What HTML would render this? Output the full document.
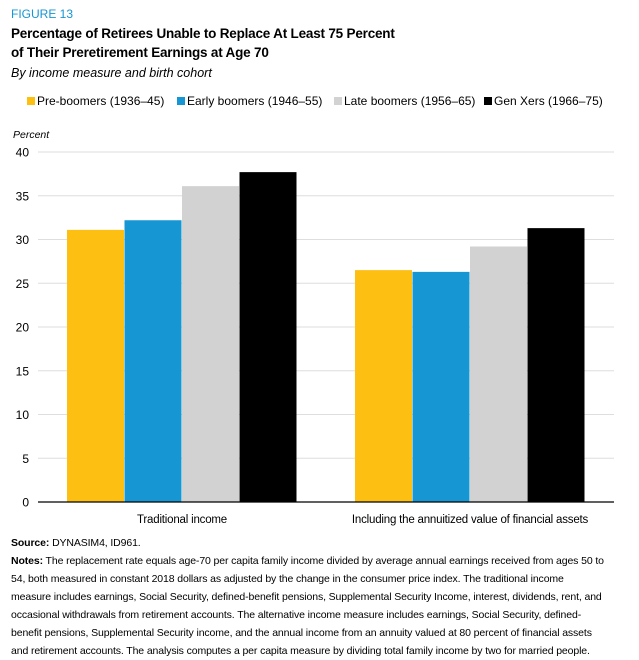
<!DOCTYPE html>
<html><head><meta charset="utf-8"><style>
body{margin:0;background:#fff;font-family:"Liberation Sans",sans-serif;color:#000;}
#wrap{position:relative;width:639px;height:660px;overflow:hidden;}
.fig{position:absolute;left:11px;top:7px;font-size:12px;color:#1696d2;}
.title{position:absolute;left:11px;top:24px;font-size:13.5px;font-weight:bold;line-height:19px;letter-spacing:-0.2px;}
.sub{position:absolute;left:11px;top:66px;font-size:12.5px;font-style:italic;}
.notes{position:absolute;left:11px;top:534px;font-size:10.5px;line-height:18px;letter-spacing:-0.12px;white-space:nowrap;}
</style></head><body>
<div id="wrap">
<div class="fig">FIGURE 13</div>
<div class="title">Percentage of Retirees Unable to Replace At Least 75 Percent<br>of Their Preretirement Earnings at Age 70</div>
<div class="sub">By income measure and birth cohort</div>
<svg id="chart" width="639" height="530" style="position:absolute;left:0;top:0"></svg>
<div class="notes"><b>Source:</b> DYNASIM4, ID961.<br><b>Notes:</b> The replacement rate equals age-70 per capita family income divided by average annual earnings received from ages 50 to<br>54, both measured in constant 2018 dollars as adjusted by the change in the consumer price index. The traditional income<br>measure includes earnings, Social Security, defined-benefit pensions, Supplemental Security Income, interest, dividends, rent, and<br>occasional withdrawals from retirement accounts. The alternative income measure includes earnings, Social Security, defined-<br>benefit pensions, Supplemental Security income, and the annual income from an annuity valued at 80 percent of financial assets<br>and retirement accounts. The analysis computes a per capita measure by dividing total family income by two for married people.</div>
</div>
<script>
const categories = ["Traditional income", "Including the annuitized value of financial assets"];
const seriesNames = ["Pre-boomers (1936–45)", "Early boomers (1946–55)", "Late boomers (1956–65)", "Gen Xers (1966–75)"];
const preBoomers = [31.1, 26.5];
const earlyBoomers = [32.2, 26.3];
const lateBoomers = [36.1, 29.2];
const genXers = [37.7, 31.3];
const yTicks = [0, 5, 10, 15, 20, 25, 30, 35, 40];

const series = [preBoomers, earlyBoomers, lateBoomers, genXers];
const colors = ["#fdbf11", "#1696d2", "#d2d2d2", "#000000"];
const NS = "http://www.w3.org/2000/svg";
const svg = document.getElementById("chart");
const x0 = 38, x1 = 614, yBase = 502, yTop = 152, yMax = 40;
const y = v => yBase - v / yMax * (yBase - yTop);
const groupW = (x1 - x0) / categories.length;
const barW = 57.5;
const xBar = (c, s) => x0 + groupW * c + groupW / 2 + (s - series.length / 2) * barW;
function mk(tag, attrs, text) {
  const e = document.createElementNS(NS, tag);
  for (const k in attrs) e.setAttribute(k, attrs[k]);
  if (text !== undefined) e.textContent = text;
  svg.appendChild(e);
  return e;
}
let lx = 27;
seriesNames.forEach((n, i) => {
  const r = mk("rect", {x: lx, y: 97, width: 8, height: 8, fill: colors[i]});
  
  
  const t = mk("text", {x: lx + 10, y: 105, "font-size": 12, fill: "#000"}, n);
  
  
  lx += [150, 157, 150, 0][i];
});
const yl = mk("text", {x: 13, y: 138, "font-size": 10.5, "font-style": "italic"}, "Percent");


yTicks.forEach(v => {
  if (v > 0) {
    const g = mk("line", {x1: x0, x2: x1, y1: y(v), y2: y(v), stroke: "#dedede", "stroke-width": 1});
    
    
  }
  const t = mk("text", {x: 29, y: y(v) + 4.5, "font-size": 12, "text-anchor": "end"}, String(v));
  
  
});
series.forEach((vals, s) => {
  vals.forEach((v, c) => {
    const r = mk("rect", {x: xBar(c, s), y: y(v), width: barW - 0.5, height: yBase - y(v), fill: colors[s]});
    
    
  });
});
const ax = mk("line", {x1: x0, x2: x1, y1: yBase, y2: yBase, stroke: "#000", "stroke-width": 1.2});


categories.forEach((c, i) => {
  const t = mk("text", {x: x0 + groupW * i + groupW / 2, y: 523, "font-size": 11.5, "text-anchor": "middle", "letter-spacing": "-0.2"}, c);
  
  
});
</script>
</body></html>
